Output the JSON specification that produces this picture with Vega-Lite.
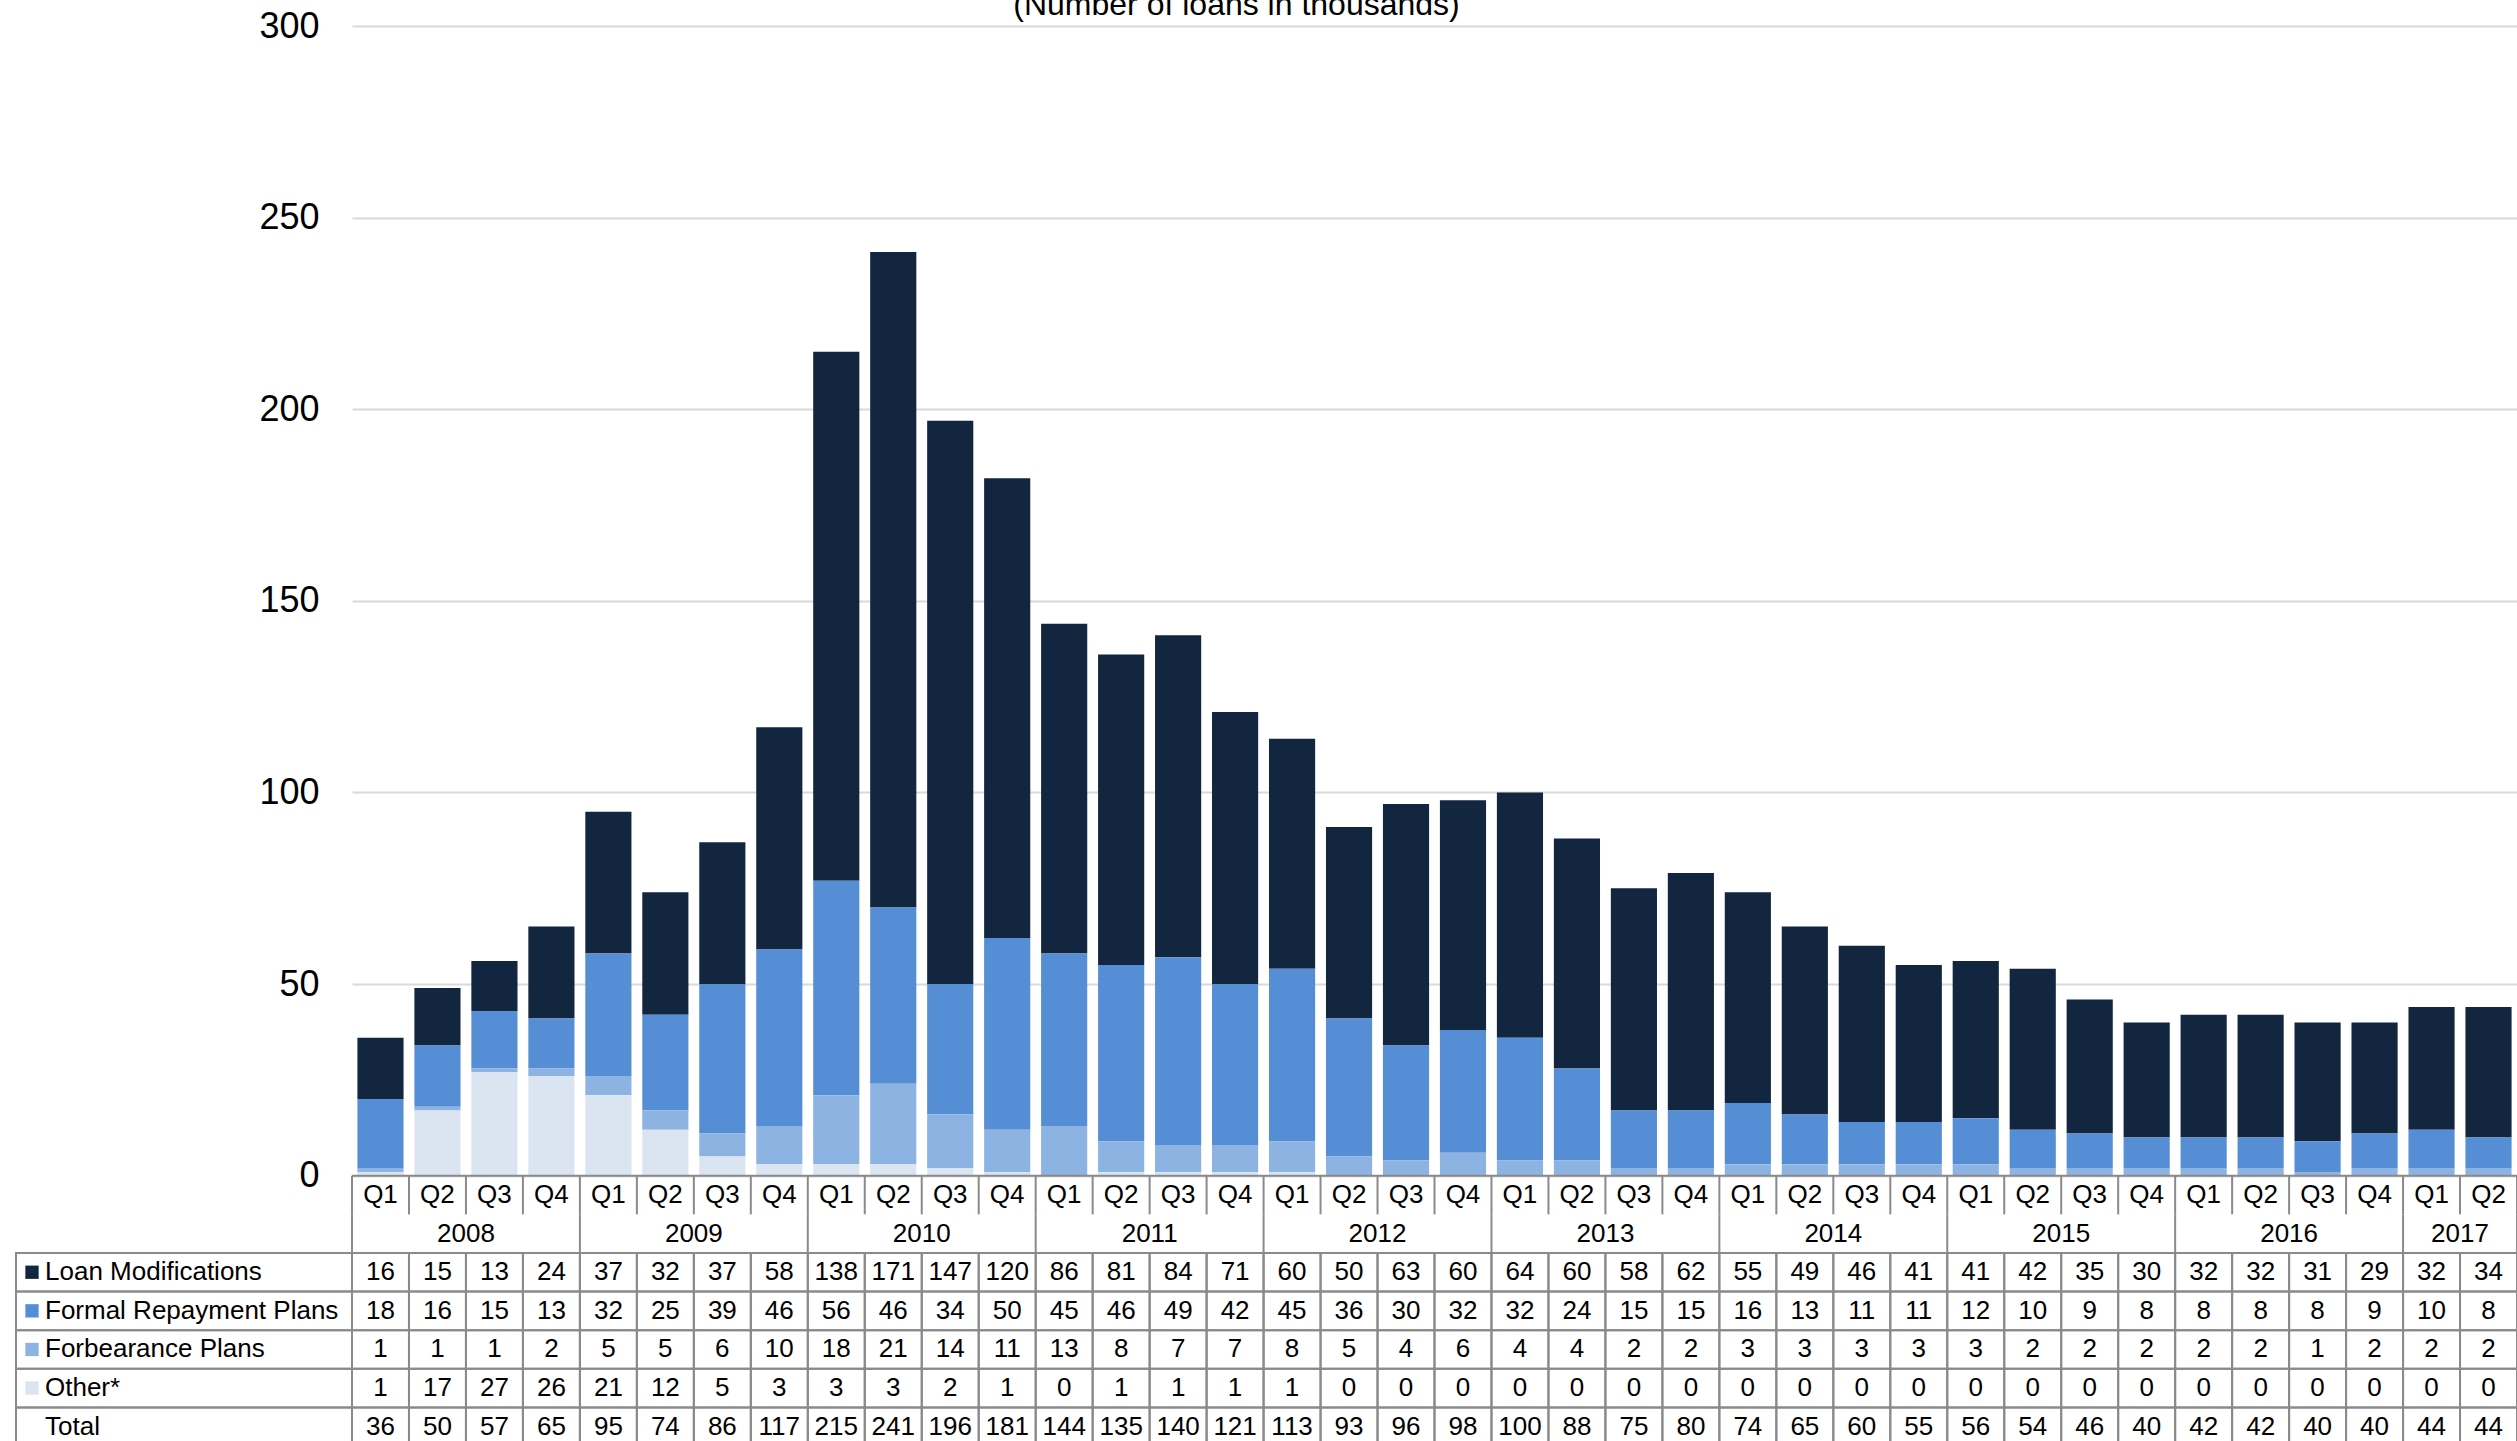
{
  "$schema": "https://vega.github.io/schema/vega-lite/v6.json",
  "width": 2165,
  "height": 1418,
  "autosize": {"type": "none"},
  "padding": {"left": 352, "top": 26, "right": 0, "bottom": 0},
  "config": {"font": "Liberation Sans", "view": {"stroke": null}},
  "title": {"text": "(Number of loans in thousands)", "fontSize": 32, "fontWeight": "normal", "font": "Liberation Sans", "color": "#000000", "anchor": "middle", "frame": "group", "dx": -198, "dy": 18},
  "datasets": {
    "loans": [
      {"period": "2008 Q1", "year": "2008", "q": "Q1", "Loan Modifications": 16, "Formal Repayment Plans": 18, "Forbearance Plans": 1, "Other*": 1, "Total": 36},
      {"period": "2008 Q2", "year": "2008", "q": "Q2", "Loan Modifications": 15, "Formal Repayment Plans": 16, "Forbearance Plans": 1, "Other*": 17, "Total": 50},
      {"period": "2008 Q3", "year": "2008", "q": "Q3", "Loan Modifications": 13, "Formal Repayment Plans": 15, "Forbearance Plans": 1, "Other*": 27, "Total": 57},
      {"period": "2008 Q4", "year": "2008", "q": "Q4", "Loan Modifications": 24, "Formal Repayment Plans": 13, "Forbearance Plans": 2, "Other*": 26, "Total": 65},
      {"period": "2009 Q1", "year": "2009", "q": "Q1", "Loan Modifications": 37, "Formal Repayment Plans": 32, "Forbearance Plans": 5, "Other*": 21, "Total": 95},
      {"period": "2009 Q2", "year": "2009", "q": "Q2", "Loan Modifications": 32, "Formal Repayment Plans": 25, "Forbearance Plans": 5, "Other*": 12, "Total": 74},
      {"period": "2009 Q3", "year": "2009", "q": "Q3", "Loan Modifications": 37, "Formal Repayment Plans": 39, "Forbearance Plans": 6, "Other*": 5, "Total": 86},
      {"period": "2009 Q4", "year": "2009", "q": "Q4", "Loan Modifications": 58, "Formal Repayment Plans": 46, "Forbearance Plans": 10, "Other*": 3, "Total": 117},
      {"period": "2010 Q1", "year": "2010", "q": "Q1", "Loan Modifications": 138, "Formal Repayment Plans": 56, "Forbearance Plans": 18, "Other*": 3, "Total": 215},
      {"period": "2010 Q2", "year": "2010", "q": "Q2", "Loan Modifications": 171, "Formal Repayment Plans": 46, "Forbearance Plans": 21, "Other*": 3, "Total": 241},
      {"period": "2010 Q3", "year": "2010", "q": "Q3", "Loan Modifications": 147, "Formal Repayment Plans": 34, "Forbearance Plans": 14, "Other*": 2, "Total": 196},
      {"period": "2010 Q4", "year": "2010", "q": "Q4", "Loan Modifications": 120, "Formal Repayment Plans": 50, "Forbearance Plans": 11, "Other*": 1, "Total": 181},
      {"period": "2011 Q1", "year": "2011", "q": "Q1", "Loan Modifications": 86, "Formal Repayment Plans": 45, "Forbearance Plans": 13, "Other*": 0, "Total": 144},
      {"period": "2011 Q2", "year": "2011", "q": "Q2", "Loan Modifications": 81, "Formal Repayment Plans": 46, "Forbearance Plans": 8, "Other*": 1, "Total": 135},
      {"period": "2011 Q3", "year": "2011", "q": "Q3", "Loan Modifications": 84, "Formal Repayment Plans": 49, "Forbearance Plans": 7, "Other*": 1, "Total": 140},
      {"period": "2011 Q4", "year": "2011", "q": "Q4", "Loan Modifications": 71, "Formal Repayment Plans": 42, "Forbearance Plans": 7, "Other*": 1, "Total": 121},
      {"period": "2012 Q1", "year": "2012", "q": "Q1", "Loan Modifications": 60, "Formal Repayment Plans": 45, "Forbearance Plans": 8, "Other*": 1, "Total": 113},
      {"period": "2012 Q2", "year": "2012", "q": "Q2", "Loan Modifications": 50, "Formal Repayment Plans": 36, "Forbearance Plans": 5, "Other*": 0, "Total": 93},
      {"period": "2012 Q3", "year": "2012", "q": "Q3", "Loan Modifications": 63, "Formal Repayment Plans": 30, "Forbearance Plans": 4, "Other*": 0, "Total": 96},
      {"period": "2012 Q4", "year": "2012", "q": "Q4", "Loan Modifications": 60, "Formal Repayment Plans": 32, "Forbearance Plans": 6, "Other*": 0, "Total": 98},
      {"period": "2013 Q1", "year": "2013", "q": "Q1", "Loan Modifications": 64, "Formal Repayment Plans": 32, "Forbearance Plans": 4, "Other*": 0, "Total": 100},
      {"period": "2013 Q2", "year": "2013", "q": "Q2", "Loan Modifications": 60, "Formal Repayment Plans": 24, "Forbearance Plans": 4, "Other*": 0, "Total": 88},
      {"period": "2013 Q3", "year": "2013", "q": "Q3", "Loan Modifications": 58, "Formal Repayment Plans": 15, "Forbearance Plans": 2, "Other*": 0, "Total": 75},
      {"period": "2013 Q4", "year": "2013", "q": "Q4", "Loan Modifications": 62, "Formal Repayment Plans": 15, "Forbearance Plans": 2, "Other*": 0, "Total": 80},
      {"period": "2014 Q1", "year": "2014", "q": "Q1", "Loan Modifications": 55, "Formal Repayment Plans": 16, "Forbearance Plans": 3, "Other*": 0, "Total": 74},
      {"period": "2014 Q2", "year": "2014", "q": "Q2", "Loan Modifications": 49, "Formal Repayment Plans": 13, "Forbearance Plans": 3, "Other*": 0, "Total": 65},
      {"period": "2014 Q3", "year": "2014", "q": "Q3", "Loan Modifications": 46, "Formal Repayment Plans": 11, "Forbearance Plans": 3, "Other*": 0, "Total": 60},
      {"period": "2014 Q4", "year": "2014", "q": "Q4", "Loan Modifications": 41, "Formal Repayment Plans": 11, "Forbearance Plans": 3, "Other*": 0, "Total": 55},
      {"period": "2015 Q1", "year": "2015", "q": "Q1", "Loan Modifications": 41, "Formal Repayment Plans": 12, "Forbearance Plans": 3, "Other*": 0, "Total": 56},
      {"period": "2015 Q2", "year": "2015", "q": "Q2", "Loan Modifications": 42, "Formal Repayment Plans": 10, "Forbearance Plans": 2, "Other*": 0, "Total": 54},
      {"period": "2015 Q3", "year": "2015", "q": "Q3", "Loan Modifications": 35, "Formal Repayment Plans": 9, "Forbearance Plans": 2, "Other*": 0, "Total": 46},
      {"period": "2015 Q4", "year": "2015", "q": "Q4", "Loan Modifications": 30, "Formal Repayment Plans": 8, "Forbearance Plans": 2, "Other*": 0, "Total": 40},
      {"period": "2016 Q1", "year": "2016", "q": "Q1", "Loan Modifications": 32, "Formal Repayment Plans": 8, "Forbearance Plans": 2, "Other*": 0, "Total": 42},
      {"period": "2016 Q2", "year": "2016", "q": "Q2", "Loan Modifications": 32, "Formal Repayment Plans": 8, "Forbearance Plans": 2, "Other*": 0, "Total": 42},
      {"period": "2016 Q3", "year": "2016", "q": "Q3", "Loan Modifications": 31, "Formal Repayment Plans": 8, "Forbearance Plans": 1, "Other*": 0, "Total": 40},
      {"period": "2016 Q4", "year": "2016", "q": "Q4", "Loan Modifications": 29, "Formal Repayment Plans": 9, "Forbearance Plans": 2, "Other*": 0, "Total": 40},
      {"period": "2017 Q1", "year": "2017", "q": "Q1", "Loan Modifications": 32, "Formal Repayment Plans": 10, "Forbearance Plans": 2, "Other*": 0, "Total": 44},
      {"period": "2017 Q2", "year": "2017", "q": "Q2", "Loan Modifications": 34, "Formal Repayment Plans": 8, "Forbearance Plans": 2, "Other*": 0, "Total": 44}
    ]
  },
  "data": {"name": "loans"},
  "transform": [
    {"fold": ["Loan Modifications", "Formal Repayment Plans", "Forbearance Plans", "Other*", "Total"], "as": ["series", "value"]}
  ],
  "resolve": {"scale": {"x": "independent", "y": "independent"}},
  "layer": [
    {
      "layer": [
        {
          "transform": [
            {"filter": "datum.series != 'Total'"},
            {"calculate": "indexof(['Other*', 'Forbearance Plans', 'Formal Repayment Plans', 'Loan Modifications'], datum.series)", "as": "stackOrder"}
          ],
          "mark": {"type": "bar"},
          "encoding": {
            "x": {"field": "period", "type": "nominal", "scale": {"type": "band", "paddingInner": 0.19, "paddingOuter": 0.095}, "axis": null},
            "y": {"field": "value", "type": "quantitative", "stack": "zero",
                  "scale": {"domain": [-70, 300], "nice": false, "zero": false},
                  "axis": {"values": [0, 50, 100, 150, 200, 250, 300], "grid": true, "gridColor": "#D9D9D9", "gridWidth": 2, "domain": false, "ticks": false, "labelFontSize": 36, "labelFont": "Liberation Sans", "labelColor": "#000000", "labelPadding": 33, "title": null}},
            "color": {"field": "series", "type": "nominal",
                      "scale": {"domain": ["Other*", "Forbearance Plans", "Formal Repayment Plans", "Loan Modifications"], "range": ["#DBE5F1", "#8DB3E2", "#558ED5", "#12263F"]},
                      "legend": null},
            "order": {"field": "stackOrder", "type": "quantitative", "sort": "ascending"}
          }
        },
        {
          "data": {"values": [{}]},
          "mark": {"type": "rule", "color": "#8A8A8A", "strokeWidth": 2},
          "encoding": {"y": {"datum": 0, "type": "quantitative"}}
        }
      ]
    },
    {
      "encoding": {
        "x": {"field": "period", "type": "nominal", "scale": {"type": "band", "paddingInner": 0, "paddingOuter": 0}, "axis": null}
      },
      "layer": [
        {
          "mark": {"type": "rect", "fill": "transparent", "stroke": "#8A8A8A", "strokeWidth": 2},
          "encoding": {
            "y": {"field": "series", "type": "nominal", "scale": {"type": "band", "domain": ["Q", "Y", "Loan Modifications", "Formal Repayment Plans", "Forbearance Plans", "Other*", "Total"], "range": [1149.7, 1420], "paddingInner": 0, "paddingOuter": 0}, "axis": null}
          }
        },
        {
          "mark": {"type": "text", "fontSize": 26, "baseline": "middle", "align": "center", "color": "#000000"},
          "encoding": {
            "y": {"field": "series", "type": "nominal", "axis": null},
            "text": {"field": "value", "type": "quantitative"}
          }
        },
        {
          "transform": [{"filter": "datum.series == 'Total'"}],
          "mark": {"type": "text", "fontSize": 26, "baseline": "middle", "align": "center", "color": "#000000"},
          "encoding": {
            "y": {"datum": "Q", "type": "nominal", "axis": null},
            "text": {"field": "q", "type": "nominal"}
          }
        },
        {
          "transform": [{"filter": "datum.series == 'Total' && ((datum.q == 'Q2' && datum.year != '2017') || (datum.year == '2017' && datum.q == 'Q1'))"}],
          "mark": {"type": "text", "fontSize": 26, "baseline": "middle", "align": "center", "color": "#000000"},
          "encoding": {
            "x": {"field": "period", "type": "nominal", "bandPosition": 1},
            "y": {"datum": "Y", "type": "nominal", "axis": null},
            "text": {"field": "year", "type": "nominal"}
          }
        },
        {
          "transform": [{"filter": "datum.series == 'Total'"}],
          "mark": {"type": "tick", "orient": "vertical", "color": "#8A8A8A", "thickness": 2, "size": 38.6, "opacity": 1},
          "encoding": {
            "x": {"field": "period", "type": "nominal", "bandPosition": 0},
            "y": {"datum": "Q", "type": "nominal", "axis": null}
          }
        },
        {
          "transform": [{"filter": "datum.series == 'Total' && datum.q == 'Q1'"}],
          "mark": {"type": "tick", "orient": "vertical", "color": "#8A8A8A", "thickness": 2, "size": 38.6, "opacity": 1},
          "encoding": {
            "x": {"field": "period", "type": "nominal", "bandPosition": 0},
            "y": {"datum": "Y", "type": "nominal", "axis": null}
          }
        },
        {
          "transform": [{"filter": "datum.series == 'Total' && datum.period == '2017 Q2'"}],
          "mark": {"type": "tick", "orient": "vertical", "color": "#8A8A8A", "thickness": 2, "size": 38.6, "opacity": 1},
          "encoding": {
            "x": {"field": "period", "type": "nominal", "bandPosition": 1},
            "y": {"datum": "Q", "type": "nominal", "axis": null}
          }
        },
        {
          "transform": [{"filter": "datum.series == 'Total' && datum.period == '2017 Q2'"}],
          "mark": {"type": "tick", "orient": "vertical", "color": "#8A8A8A", "thickness": 2, "size": 38.6, "opacity": 1},
          "encoding": {
            "x": {"field": "period", "type": "nominal", "bandPosition": 1},
            "y": {"datum": "Y", "type": "nominal", "axis": null}
          }
        }
      ]
    },
    {
      "transform": [{"aggregate": [{"op": "count", "as": "n"}], "groupby": ["series"]}],
      "encoding": {
        "x": {"datum": "label", "type": "nominal", "scale": {"type": "band", "domain": ["label"], "range": [-336, 0], "paddingInner": 0, "paddingOuter": 0}, "axis": null},
        "y": {"field": "series", "type": "nominal", "scale": {"type": "band", "domain": ["Q", "Y", "Loan Modifications", "Formal Repayment Plans", "Forbearance Plans", "Other*", "Total"], "range": [1149.7, 1420], "paddingInner": 0, "paddingOuter": 0}, "axis": null}
      },
      "layer": [
        {
          "mark": {"type": "rect", "fill": "transparent", "stroke": "#8A8A8A", "strokeWidth": 2}
        },
        {
          "mark": {"type": "text", "fontSize": 26, "baseline": "middle", "align": "left", "dx": -139, "color": "#000000"},
          "encoding": {"text": {"field": "series", "type": "nominal"}}
        },
        {
          "transform": [{"filter": "datum.series != 'Total'"}],
          "mark": {"type": "square", "size": 177, "xOffset": -152, "opacity": 1, "filled": true},
          "encoding": {
            "color": {"field": "series", "type": "nominal",
                      "scale": {"domain": ["Other*", "Forbearance Plans", "Formal Repayment Plans", "Loan Modifications"], "range": ["#DBE5F1", "#8DB3E2", "#558ED5", "#12263F"]},
                      "legend": null}
          }
        }
      ]
    }
  ]
}
